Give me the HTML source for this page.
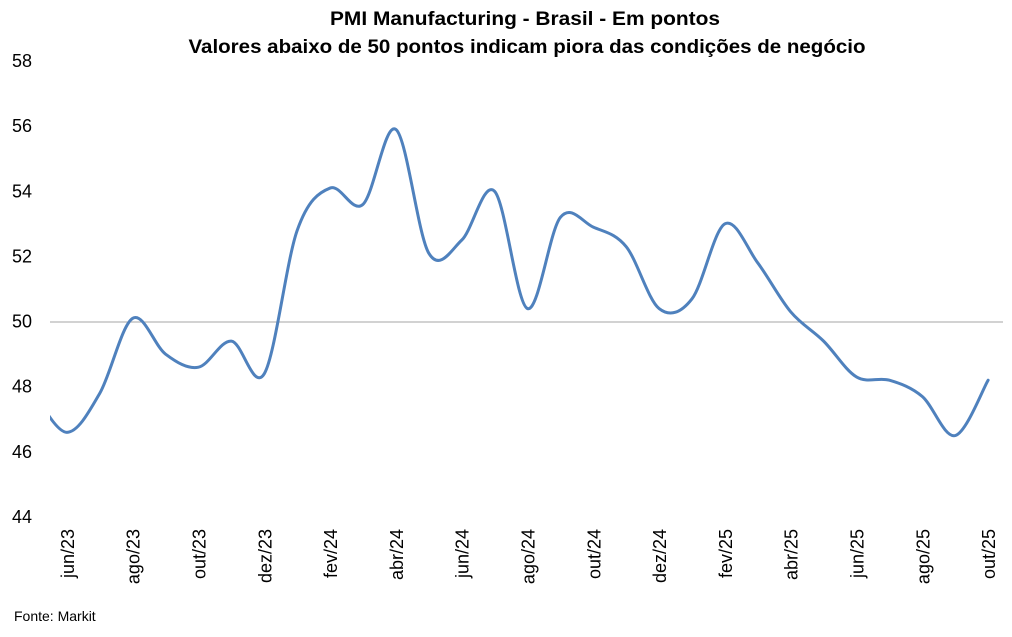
<!DOCTYPE html>
<html><head><meta charset="utf-8"><style>
body{margin:0;background:#fff;width:1012px;height:632px;overflow:hidden}
text{font-family:"Liberation Sans",sans-serif}
</style></head><body>
<svg width="1012" height="632" xmlns="http://www.w3.org/2000/svg">
<defs><clipPath id="c"><rect x="50" y="0" width="962" height="632"/></clipPath></defs>
<text x="525" y="25" text-anchor="middle" font-size="19" font-weight="bold" textLength="390" lengthAdjust="spacingAndGlyphs">PMI Manufacturing - Brasil - Em pontos</text>
<text x="527" y="53" text-anchor="middle" font-size="19" font-weight="bold" textLength="677" lengthAdjust="spacingAndGlyphs">Valores abaixo de 50 pontos indicam piora das condições de negócio</text>
<line x1="50" y1="322" x2="1003" y2="322" stroke="#a6a6a6" stroke-width="1"/>
<g font-size="18" text-anchor="end" fill="#000" id="yl"></g>
<g font-size="18" text-anchor="end" fill="#000" id="xl"></g>
<path id="ln" clip-path="url(#c)" fill="none" stroke="#4f81bd" stroke-width="3" stroke-linejoin="round" stroke-linecap="round"/>
<text x="14" y="621" font-size="14">Fonte: Markit</text>
</svg>
<script>
var d=[47.8,46.6,47.8,50.1,49.0,48.6,49.4,48.4,52.8,54.1,53.6,55.9,52.1,52.5,54.0,50.4,53.2,52.9,52.3,50.4,50.7,53.0,51.8,50.3,49.4,48.3,48.2,47.7,46.5,48.2];
var X=i=>34+i*32.9, Y=v=>517-(v-44)*32.57;
var ns="http://www.w3.org/2000/svg";
var yl=document.getElementById('yl');
for(var v=44;v<=58;v+=2){var t=document.createElementNS(ns,'text');t.setAttribute('x',32);t.setAttribute('y',Y(v)+6);t.textContent=v;yl.appendChild(t);}
var lab=['jun/23','ago/23','out/23','dez/23','fev/24','abr/24','jun/24','ago/24','out/24','dez/24','fev/25','abr/25','jun/25','ago/25','out/25'];
var xl=document.getElementById('xl');
lab.forEach(function(s,k){var x=X(1+2*k)+7,y=529;var t=document.createElementNS(ns,'text');t.setAttribute('x',x);t.setAttribute('y',y);t.setAttribute('transform','rotate(-90 '+x+' '+y+')');t.textContent=s;xl.appendChild(t);});
var p=d.map((v,i)=>[X(i),Y(v)]);
var s='M'+p[0][0]+','+p[0][1];
for(var i=0;i<p.length-1;i++){var p0=p[i-1]||p[i],p1=p[i],p2=p[i+1],p3=p[i+2]||p2;
var c1=[p1[0]+(p2[0]-p0[0])/6,p1[1]+(p2[1]-p0[1])/6],c2=[p2[0]-(p3[0]-p1[0])/6,p2[1]-(p3[1]-p1[1])/6];
s+='C'+c1+' '+c2+' '+p2;}
document.getElementById('ln').setAttribute('d',s);
</script>
</body></html>
